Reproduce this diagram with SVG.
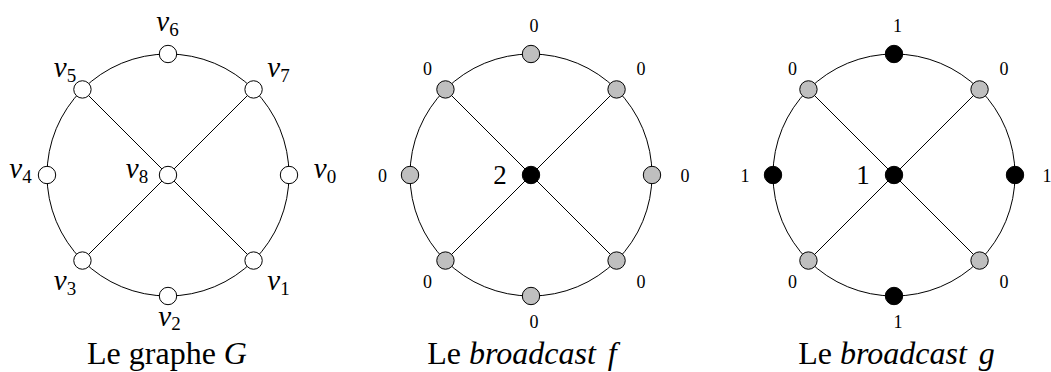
<svg xmlns="http://www.w3.org/2000/svg" width="1051" height="372" viewBox="0 0 1051 372">
<style>
.e{fill:none;stroke:#000;stroke-width:1}
.n{stroke:#000;stroke-width:1}
.w{fill:#fff}
.g{fill:#bfbfbf}
.b{fill:#000}
.t{font-family:"Liberation Serif",serif;fill:#000;text-anchor:middle}
.v{font-size:29px;font-style:italic}
.s{font-size:19px;font-style:normal}
.sm{font-size:18px}
.big{font-size:27px}
.cap{font-size:32px}
.i{font-style:italic}
</style>
<defs>
<g id="edges">
<circle class="e" cx="0" cy="0" r="121"/>
<line class="e" x1="-85.56" y1="-85.56" x2="85.56" y2="85.56"/>
<line class="e" x1="85.56" y1="-85.56" x2="-85.56" y2="85.56"/>
</g>
</defs>
<g id="connectors">
<use href="#edges" transform="translate(168,175)"/>
<use href="#edges" transform="translate(531,175)"/>
<use href="#edges" transform="translate(894,175)"/>
</g>
<!-- Graph G -->
<g id="G">
<g id="G-v0"><circle class="n w" cx="289" cy="175" r="8.7"/><text class="t v" x="325" y="178">v<tspan class="s" dy="5">0</tspan></text></g>
<g id="G-v1"><circle class="n w" cx="253.56" cy="260.56" r="8.7"/><text class="t v" x="278.5" y="290">v<tspan class="s" dy="5">1</tspan></text></g>
<g id="G-v2"><circle class="n w" cx="168" cy="296" r="8.7"/><text class="t v" x="169.5" y="326">v<tspan class="s" dy="4">2</tspan></text></g>
<g id="G-v3"><circle class="n w" cx="82.44" cy="260.56" r="8.7"/><text class="t v" x="65" y="290">v<tspan class="s" dy="5">3</tspan></text></g>
<g id="G-v4"><circle class="n w" cx="47" cy="175" r="8.7"/><text class="t v" x="20.5" y="178">v<tspan class="s" dy="5">4</tspan></text></g>
<g id="G-v5"><circle class="n w" cx="82.44" cy="89.44" r="8.7"/><text class="t v" x="65" y="77">v<tspan class="s" dy="5">5</tspan></text></g>
<g id="G-v6"><circle class="n w" cx="168" cy="54" r="8.7"/><text class="t v" x="167.5" y="31">v<tspan class="s" dy="5">6</tspan></text></g>
<g id="G-v7"><circle class="n w" cx="253.56" cy="89.44" r="8.7"/><text class="t v" x="278.5" y="77">v<tspan class="s" dy="5">7</tspan></text></g>
<g id="G-v8"><circle class="n w" cx="168" cy="175" r="8.7"/><text class="t v" x="137" y="178">v<tspan class="s" dy="5">8</tspan></text></g>
<text class="t cap" x="167" y="364">Le graphe <tspan class="i">G</tspan></text>
</g>
<!-- Broadcast f -->
<g id="F">
<g id="F-v0"><circle class="n g" cx="652" cy="175" r="8.7"/><text class="t sm" x="685" y="182">0</text></g>
<g id="F-v1"><circle class="n g" cx="616.56" cy="260.56" r="8.7"/><text class="t sm" x="641" y="288">0</text></g>
<g id="F-v2"><circle class="n g" cx="531" cy="296" r="8.7"/><text class="t sm" x="534" y="328">0</text></g>
<g id="F-v3"><circle class="n g" cx="445.44" cy="260.56" r="8.7"/><text class="t sm" x="427.5" y="288">0</text></g>
<g id="F-v4"><circle class="n g" cx="410" cy="175" r="8.7"/><text class="t sm" x="382.5" y="182">0</text></g>
<g id="F-v5"><circle class="n g" cx="445.44" cy="89.44" r="8.7"/><text class="t sm" x="427.5" y="75">0</text></g>
<g id="F-v6"><circle class="n g" cx="531" cy="54" r="8.7"/><text class="t sm" x="534" y="32">0</text></g>
<g id="F-v7"><circle class="n g" cx="616.56" cy="89.44" r="8.7"/><text class="t sm" x="641" y="75">0</text></g>
<g id="F-v8"><circle class="n b" cx="531" cy="175" r="8.7"/><text class="t big" x="500" y="184">2</text></g>
<text class="t cap" x="522" y="364">Le <tspan class="i">broadcast</tspan> <tspan class="i" dx="4">f</tspan></text>
</g>
<!-- Broadcast g -->
<g id="H">
<g id="H-v0"><circle class="n b" cx="1015" cy="175" r="8.7"/><text class="t sm" x="1047" y="182">1</text></g>
<g id="H-v1"><circle class="n g" cx="979.56" cy="260.56" r="8.7"/><text class="t sm" x="1004" y="288">0</text></g>
<g id="H-v2"><circle class="n b" cx="894" cy="296" r="8.7"/><text class="t sm" x="898" y="328">1</text></g>
<g id="H-v3"><circle class="n g" cx="808.44" cy="260.56" r="8.7"/><text class="t sm" x="792.5" y="288">0</text></g>
<g id="H-v4"><circle class="n b" cx="773" cy="175" r="8.7"/><text class="t sm" x="745" y="182">1</text></g>
<g id="H-v5"><circle class="n g" cx="808.44" cy="89.44" r="8.7"/><text class="t sm" x="792.5" y="75">0</text></g>
<g id="H-v6"><circle class="n b" cx="894" cy="54" r="8.7"/><text class="t sm" x="897.5" y="32">1</text></g>
<g id="H-v7"><circle class="n g" cx="979.56" cy="89.44" r="8.7"/><text class="t sm" x="1004" y="75">0</text></g>
<g id="H-v8"><circle class="n b" cx="894" cy="175" r="8.7"/><text class="t big" x="863" y="184">1</text></g>
<text class="t cap" x="896.5" y="364">Le <tspan class="i">broadcast</tspan> <tspan class="i" dx="4">g</tspan></text>
</g>
</svg>
